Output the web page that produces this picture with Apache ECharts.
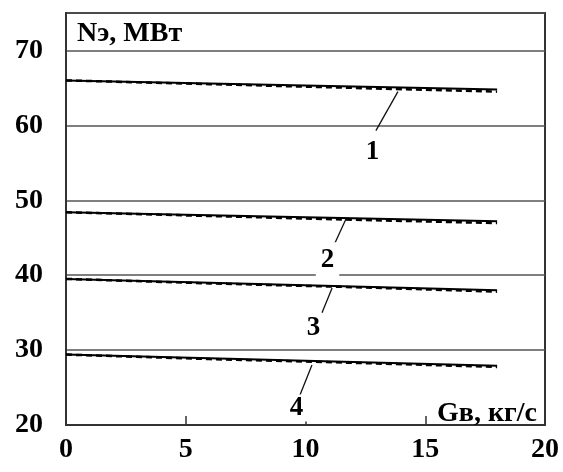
<!DOCTYPE html>
<html>
<head>
<meta charset="utf-8">
<script src="https://cdn.jsdelivr.net/npm/echarts@6/dist/echarts.min.js"></script>
<style>
  html, body { margin: 0; padding: 0; background: #fff; }
  #chart { width: 563px; height: 472px; }
</style>
</head>
<body>
<div id="chart"></div>
<script>
// Gв, кг/с
const xVals = [0, 6, 12, 18];

// Nэ, МВт — solid / dashed pairs for curves 1..4
const solid1 = [66.0, 65.6, 65.2, 64.8];
const dash1  = [66.0, 65.5, 65.0, 64.5];
const solid2 = [48.4, 48.0, 47.6, 47.2];
const dash2  = [48.4, 47.9, 47.4, 46.95];
const solid3 = [39.5, 39.0, 38.5, 38.0];
const dash3  = [39.5, 38.9, 38.4, 37.8];
const solid4 = [29.4, 28.9, 28.4, 27.9];
const dash4  = [29.4, 28.8, 28.3, 27.75];

// curve labels: [text, leader start x,y, leader end x,y, text x,y]
const curveLabels = [
  ['1', 13.86, 64.5, 12.94, 59.3, 12.82, 56.4],
  ['2', 11.69, 47.5, 11.23, 44.3, 10.94, 42.0],
  ['3', 11.11, 38.3, 10.69, 35.0, 10.36, 32.9],
  ['4', 10.27, 28.0, 9.77, 24.0, 9.65, 22.2]
];

const xTicks = [0, 5, 10, 15, 20];
const yTicks = [20, 30, 40, 50, 60, 70];

const font = 'Liberation Serif';
const chart = echarts.init(document.getElementById('chart'));

function pairs(ys) {
  return xVals.map((x, i) => [x, ys[i]]);
}

const series = [];
[[solid1, dash1], [solid2, dash2], [solid3, dash3], [solid4, dash4]].forEach(function (p) {
  series.push({
    type: 'line', data: pairs(p[0]), symbol: 'none', silent: true,
    lineStyle: { color: '#000', width: 2 }, z: 3
  });
  series.push({
    type: 'line', data: pairs(p[1]), symbol: 'none', silent: true,
    lineStyle: { color: '#000', width: 2.5, type: [6, 4] }, z: 3
  });
});

curveLabels.forEach(function (c) {
  series.push({
    type: 'line', data: [[c[1], c[2]], [c[3], c[4]]], symbol: 'none', silent: true,
    lineStyle: { color: '#111', width: 1.3 }, z: 4
  });
});

series.push({
  type: 'scatter', silent: true, symbolSize: 1, z: 5,
  itemStyle: { color: '#fff', opacity: 1 },
  data: curveLabels.map(c => ({
    value: [c[5], c[6]], name: c[0],
    label: c[0] === '2' ? { padding: [0, 5, 8, 5] } : {}
  })),
  label: {
    show: true, position: [0, 0], align: 'center', verticalAlign: 'middle',
    formatter: '{b}', opacity: 1,
    fontFamily: font, fontWeight: 'bold', fontSize: 27, color: '#000',
    textBorderWidth: 0, backgroundColor: '#fff', padding: [0, 4]
  }
});

chart.setOption({
  animation: false,
  backgroundColor: '#fff',
  title: [
    { text: 'Nэ, МВт', left: 72, top: 15,
      textStyle: { fontFamily: font, fontWeight: 'bold', fontSize: 28, color: '#000' } },
    { text: 'Gв, кг/с', right: 21, top: 395,
      textStyle: { fontFamily: font, fontWeight: 'bold', fontSize: 28, color: '#000' } }
  ],
  grid: {
    left: 66, right: 18, top: 13, bottom: 47,
    show: true, borderColor: '#333', borderWidth: 2, backgroundColor: 'transparent'
  },
  xAxis: {
    type: 'value', min: 0, max: 20, interval: 5,
    axisLine: { show: true, lineStyle: { color: '#333', width: 2 } },
    axisTick: { show: true, inside: true, length: 9, lineStyle: { color: '#333', width: 1.5 } },
    splitLine: { show: false },
    axisLabel: {
      margin: 11, fontFamily: font, fontWeight: 'bold', fontSize: 28, color: '#000',
      formatter: v => xTicks.indexOf(v) >= 0 ? String(v) : ''
    }
  },
  yAxis: {
    type: 'value', min: 20, max: 75, interval: 10,
    axisLine: { show: true, lineStyle: { color: '#333', width: 2 } },
    axisTick: { show: false },
    splitLine: { show: true, lineStyle: { color: '#555', width: 1.5 } },
    axisLabel: {
      margin: 23, fontFamily: font, fontWeight: 'bold', fontSize: 28, color: '#000',
      formatter: v => yTicks.indexOf(v) >= 0 ? String(v) : ''
    }
  },
  series: series
});
</script>
</body>
</html>
